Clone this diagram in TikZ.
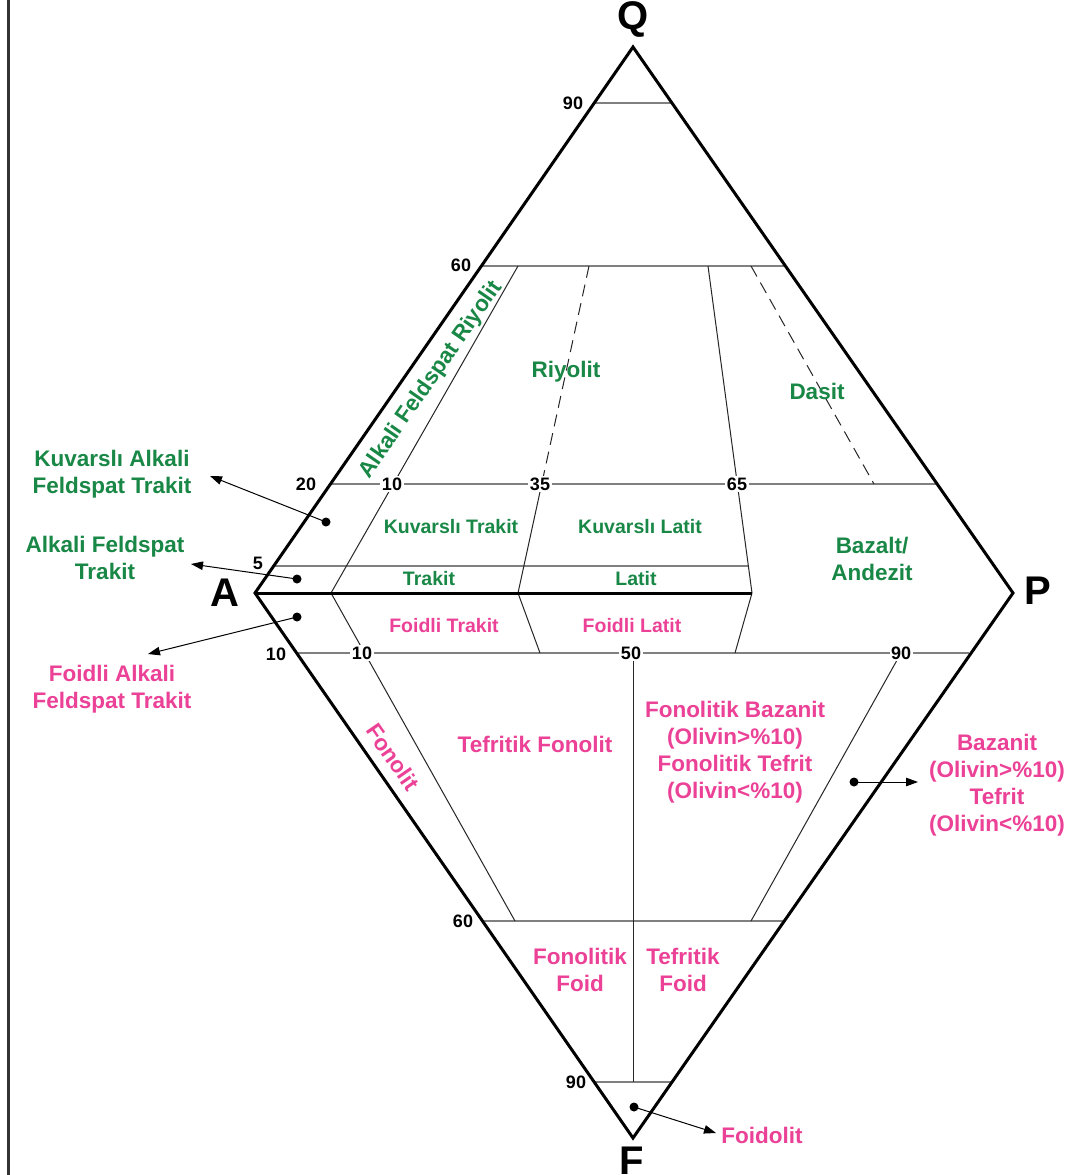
\documentclass[tikz,border=0pt]{standalone}
\usepackage{fontspec}
\setmainfont{Liberation Sans}
\usetikzlibrary{arrows.meta}
\definecolor{tgreen}{RGB}{25,135,70}
\definecolor{tpink}{RGB}{235,65,150}
\begin{document}
\begin{tikzpicture}[x=1pt,y=-1pt,
  edgeline/.style={line width=3pt, line join=miter, line cap=round},
  gridline/.style={draw=black!50, line width=1.5pt},
  innerline/.style={draw=black!85, line width=1pt},
  dashline/.style={innerline, dash pattern=on 12pt off 7pt},
  num/.style={font=\fontsize{18}{20}\selectfont\bfseries, inner sep=1.5pt},
  numw/.style={num, fill=white},
  vtx/.style={font=\fontsize{40}{44}\selectfont\bfseries, inner sep=0pt},
  slanted/.style={font=\fontsize{22.5}{27}\selectfont\bfseries, inner sep=0pt},
  big/.style={font=\fontsize{22.5}{27}\selectfont\bfseries, align=center, inner sep=0pt, yshift=-2.5pt},
  small/.style={font=\fontsize{19.5}{24}\selectfont\bfseries, inner sep=0pt, yshift=-2pt},
  gre/.style={text=tgreen}, pnk/.style={text=tpink},
  dotn/.style={circle, fill=black, inner sep=0pt, minimum size=9pt},
  ptr/.style={-{Triangle[length=12pt,width=8.5pt]}, line width=1pt},
]
\useasboundingbox (0,0) rectangle (1079,1175);
\fill[white] (0,0) rectangle (1079,1175);
% left border
\coordinate (bt) at (8.5,0);
\coordinate (bb) at (8.5,1175);
\draw[line width=2.5pt, black!80] (bt) -- (bb);

% vertices
\coordinate (Q) at (633,47);
\coordinate (A) at (255,593);
\coordinate (P) at (1013,593);
\coordinate (F) at (633,1138);

% horizontal grid lines (upper)
\coordinate (h90l) at (594.2,103); \coordinate (h90r) at (671.8,103);
\coordinate (h60l) at (481.4,266); \coordinate (h60r) at (784.6,266);
\coordinate (h20l) at (330.5,484); \coordinate (h20r) at (935.5,484);
\coordinate (h5l) at (273.7,566);  \coordinate (h5r) at (748.4,566);
% lower
\coordinate (l10l) at (296.6,653); \coordinate (l10r) at (969.4,653);
\coordinate (l60l) at (482.5,921); \coordinate (l60r) at (783.5,921);
\coordinate (l90l) at (594.2,1082); \coordinate (l90r) at (671.8,1082);

\draw[gridline] (h90l) -- (h90r);
\draw[gridline] (h60l) -- (h60r);
\draw[gridline] (h20l) -- (h20r);
\draw[gridline] (h5l) -- (h5r);
\draw[gridline] (l10l) -- (l10r);
\draw[gridline] (l60l) -- (l60r);
\draw[gridline] (l90l) -- (l90r);

% axis points
\coordinate (a10) at (331,593);
\coordinate (a35) at (518,593);
\coordinate (a65) at (752,593);

% upper inner lines
\coordinate (u10t) at (518,266);
\coordinate (u35m) at (541.7,484);
\coordinate (u35t) at (589,266);
\coordinate (u65t) at (708,266);
\coordinate (u90t) at (751,266);
\coordinate (u90b) at (874,484);
\draw[innerline] (a10) -- (u10t);
\draw[innerline] (a35) -- (u35m);
\draw[dashline] (u35t) -- (u35m);
\draw[innerline] (a65) -- (u65t);
\draw[dashline] (u90t) -- (u90b);

% lower inner lines
\coordinate (d10b) at (515,921);
\coordinate (d35b) at (540,653);
\coordinate (d65b) at (735,653);
\coordinate (d50t) at (633,653);
\coordinate (d50b) at (633,1082);
\coordinate (d90t) at (901,653);
\coordinate (d90b) at (751,921);
\draw[innerline] (a10) -- (d10b);
\draw[innerline] (a35) -- (d35b);
\draw[innerline] (a65) -- (d65b);
\draw[innerline] (d50t) -- (d50b);
\draw[innerline] (d90t) -- (d90b);

% outer edges and thick axis
\draw[edgeline] (A) -- (Q) -- (P) -- (F) -- cycle;
\draw[line width=3pt] (A) -- (a65);

% numbers on lines
\node[numw] (n10u) at (392,484) {10};
\node[numw] (n35u) at (540,484) {35};
\node[numw] (n65u) at (737,484) {65};
\node[numw] (n10d) at (362,653) {10};
\node[numw] (n50d) at (631,653) {50};
\node[numw] (n90d) at (901,653) {90};
% numbers on edges
\node[num] (e90u) at (573,103) {90};
\node[num] (e60u) at (461,265) {60};
\node[num] (e20u) at (306,484) {20};
\node[num] (e5u)  at (258,563) {5};
\node[num] (e10d) at (276,654) {10};
\node[num] (e60d) at (463,921) {60};
\node[num] (e90d) at (576,1082) {90};

% vertex labels
\node[vtx] (lQ) at (633,19) {Q};
\node[vtx] (lA) at (225,593) {A};
\node[vtx] (lP) at (1038,591) {P};
\node[vtx] (lF) at (632,1161) {F};

% field names (green)
\node[slanted, gre, rotate=55.3] (afr) at (431,380) {Alkali Feldspat Riyolit};
\node[big, gre] (riy) at (566,369) {Riyolit};
\node[big, gre] (das) at (817,389) {Dasit};
\node[small, gre] (kt) at (451,525) {Kuvarslı Trakit};
\node[small, gre] (kl) at (640,525) {Kuvarslı Latit};
\node[small, gre] (tr) at (429,577) {Trakit};
\node[small, gre] (la) at (636,577) {Latit};
\node[big, gre] (ba) at (872,556.5) {Bazalt/\\Andezit};
\node[big, gre] (kaft) at (112,471.5) {Kuvarslı Alkali\\Feldspat Trakit};
\node[big, gre] (aft) at (105,555) {Alkali Feldspat\\Trakit};

% field names (pink)
\node[small, pnk] (ft) at (444,624) {Foidli Trakit};
\node[small, pnk] (fl) at (632,624) {Foidli Latit};
\node[big, pnk] (faft) at (112,686.5) {Foidli Alkali\\Feldspat Trakit};
\node[big, pnk] (tf) at (535,742) {Tefritik Fonolit};
\node[big, pnk] (fb) at (735,750) {Fonolitik Bazanit\\(Olivin>\%10)\\Fonolitik Tefrit\\(Olivin<\%10)};
\node[big, pnk] (bz) at (997,782.5) {Bazanit\\(Olivin>\%10)\\Tefrit\\(Olivin<\%10)};
\node[slanted, pnk, rotate=-55.3] (fon) at (393,757) {Fonolit};
\node[big, pnk] (ff) at (580,967.5) {Fonolitik\\Foid};
\node[big, pnk] (tff) at (683,967.5) {Tefritik\\Foid};
\node[big, pnk] (fdl) at (762,1133) {Foidolit};

% pointer dots and arrows
\node[dotn] (p1) at (326,522) {};
\node[dotn] (p2) at (297,579) {};
\node[dotn] (p3) at (297,617) {};
\node[dotn] (p4) at (854,782) {};
\node[dotn] (p5) at (634,1107) {};
\coordinate (t1) at (210,476);
\coordinate (t2) at (191,564);
\coordinate (t3) at (148,654);
\coordinate (t4) at (918,782);
\coordinate (t5) at (716,1133);
\draw[ptr] (p1.center) -- (t1);
\draw[ptr] (p2.center) -- (t2);
\draw[ptr] (p3.center) -- (t3);
\draw[ptr] (p4.center) -- (t4);
\draw[ptr] (p5.center) -- (t5);
\end{tikzpicture}
\end{document}
